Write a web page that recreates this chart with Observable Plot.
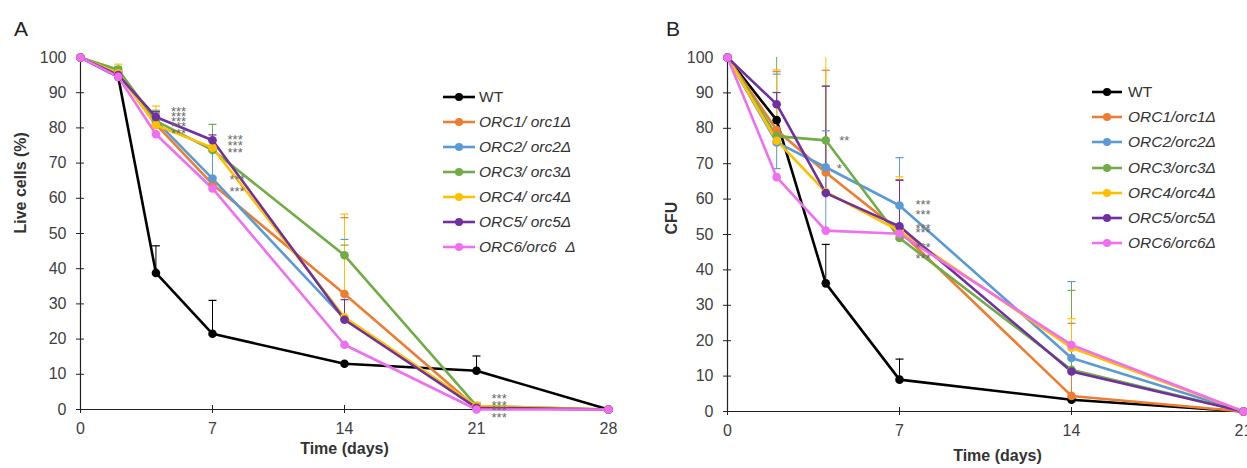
<!DOCTYPE html>
<html><head><meta charset="utf-8">
<script src="https://cdn.jsdelivr.net/npm/d3@7"></script>
<script src="https://cdn.jsdelivr.net/npm/@observablehq/plot@0.6"></script>
<style>
html,body{margin:0;padding:0;background:#fff;overflow:hidden}
#wrap{position:relative;width:1247px;height:468px;font-family:"Liberation Sans",Arial,sans-serif;color:#333}
.panel{position:absolute;top:0}
.letter{position:absolute;font-size:21px;color:#222;line-height:1}
.legend{position:absolute;font-size:15.5px;color:#333}
.legend .row{position:absolute;left:0;white-space:pre;display:flex;align-items:center;height:20px}
.legend svg{display:block;overflow:visible}
</style></head>
<body><div id="wrap"></div>
<script>
// ---------- data ----------
const strains = ["WT", "ORC1", "ORC2", "ORC3", "ORC4", "ORC5", "ORC6"];
const colors = ["#000000", "#ED7D31", "#5B9BD5", "#70AD47", "#FFC000", "#7030A0", "#F06EF0"];
const legendLabelsA = ["WT", "ORC1/ orc1Δ", "ORC2/ orc2Δ", "ORC3/ orc3Δ", "ORC4/ orc4Δ", "ORC5/ orc5Δ", "ORC6/orc6  Δ"];
const legendLabelsB = ["WT", "ORC1/orc1Δ", "ORC2/orc2Δ", "ORC3/orc3Δ", "ORC4/orc4Δ", "ORC5/orc5Δ", "ORC6/orc6Δ"];
const yTicks = [0, 10, 20, 30, 40, 50, 60, 70, 80, 90, 100];

// Panel A: live cells (%)
const daysA = [0, 2, 4, 7, 14, 21, 28];
const xTicksA = [0, 7, 14, 21, 28];
const liveWT   = [100, 94.5, 38.8, 21.5, 13.0, 11.0, 0];
const liveORC1 = [100, 95.5, 81.0, 64.0, 32.8, 0.5, 0];
const liveORC2 = [100, 95.5, 82.0, 65.6, 25.8, 0.5, 0];
const liveORC3 = [100, 96.5, 82.0, 73.7, 43.8, 1.0, 0];
const liveORC4 = [100, 95.5, 80.8, 74.4, 26.2, 1.0, 0];
const liveORC5 = [100, 95.0, 83.1, 76.5, 25.5, 0.5, 0];
const liveORC6 = [100, 94.5, 78.2, 62.8, 18.4, 0, 0];
const liveErrWT   = [0, 0, 7.7, 9.5, 0, 4.2, 0];
const liveErrORC1 = [0, 1.5, 3.0, 2.0, 21.7, 1.0, 0];
const liveErrORC2 = [0, 1.5, 2.5, 8.0, 22.5, 1.0, 0];
const liveErrORC3 = [0, 1.0, 3.0, 7.3, 2.9, 1.0, 0];
const liveErrORC4 = [0, 2.6, 5.4, 2.0, 29.3, 1.0, 0];
const liveErrORC5 = [0, 1.0, 1.5, 1.5, 5.7, 1.0, 0];
const liveErrORC6 = [0, 0, 0, 0, 0, 0, 0];
const starsLiveDay = [5.2, 5.2, 5.2, 5.2, 5.2, 8.2, 8.2, 8.2, 8.3, 8.3, 22.2, 22.2, 22.2, 22.2];
const starsLiveVal = [85.3, 83.9, 82.5, 81.1, 79.1, 77.6, 75.8, 73.9, 66.1, 62.8, 4.0, 2.0, 0.5, -1.5];
const starsLiveText = ["***", "***", "***", "***", "***", "***", "***", "***", "***", "***", "***", "***", "***", "***"];

// Panel B: CFU
const daysB = [0, 2, 4, 7, 14, 21];
const xTicksB = [0, 7, 14, 21];
const cfuWT   = [100, 82.3, 36.2, 9.0, 3.3, 0];
const cfuORC1 = [100, 79.5, 67.5, 51.0, 4.4, 0];
const cfuORC2 = [100, 76.0, 69.0, 58.2, 15.1, 0];
const cfuORC3 = [100, 77.8, 76.6, 49.0, 11.8, 0];
const cfuORC4 = [100, 76.5, 62.0, 51.0, 18.0, 0];
const cfuORC5 = [100, 86.8, 61.7, 52.3, 11.3, 0];
const cfuORC6 = [100, 66.2, 51.1, 50.2, 18.8, 0];
const cfuErrWT   = [0, 0, 11.0, 5.8, 0, 0];
const cfuErrORC1 = [0, 16.5, 28.9, 14.5, 20.5, 0];
const cfuErrORC2 = [0, 19.3, 10.3, 13.5, 21.6, 0];
const cfuErrORC3 = [0, 22.7, 15.3, 0, 22.4, 0];
const cfuErrORC4 = [0, 20.0, 38.0, 15.3, 8.2, 0];
const cfuErrORC5 = [0, 3.3, 30.2, 13.0, 0, 0];
const cfuErrORC6 = [0, 0, 0, 0, 0, 0];
const cfuLowORC2 = [0, 7.4, 17.9, 0, 0, 0];
const starsCfuDay = [4.75, 4.55, 7.96, 7.96, 7.96, 7.96, 7.96, 7.96];
const starsCfuVal = [77.4, 69.3, 59.2, 56.3, 52.5, 51.3, 47.2, 44.1];
const starsCfuText = ["**", "*", "***", "***", "***", "***", "***", "***"];

// ---------- helpers ----------
function buildRows(days, series, errs, lows) {
  const out = [];
  strains.forEach((s, i) => days.forEach((d, j) => out.push({
    strain: s, day: d, value: series[i][j], err: errs[i][j], low: lows && lows[i] ? lows[i][j] : 0
  })));
  return out;
}
const capSymbol = {draw(ctx, size) { const r = Math.sqrt(size / Math.PI); ctx.moveTo(-r, 0); ctx.lineTo(r, 0); }};

function panel({rows, xTicks, xMax, width, mL, mR, mT, mB, yLabel, yLabelDx, xLabelDx, xLabelDy, starsDay, starsVal, starsText}) {
  const up = rows.filter(d => d.err > 0).map(d => ({...d, top: Math.min(100, d.value + d.err)}));
  const down = rows.filter(d => d.low > 0).map(d => ({...d, top: d.value - d.low}));
  const caps = up.filter(d => d.value + d.err < 100).concat(down);
  const stars = starsDay.map((d, i) => ({day: d, value: starsVal[i], text: starsText[i]}));
  return Plot.plot({
    width, height: 468,
    marginLeft: mL, marginRight: mR, marginTop: mT, marginBottom: mB,
    style: {fontFamily: '"Liberation Sans", Arial, sans-serif', fontSize: "16px", color: "#404040", background: "transparent", overflow: "visible"},
    x: {domain: [0, xMax]},
    y: {domain: [0, 100]},
    color: {domain: strains, range: colors},
    marks: [
      Plot.ruleX(up.concat(down), {x: "day", y1: "value", y2: "top", stroke: "strain", strokeWidth: 1}),
      Plot.dot(caps, {x: "day", y: "top", symbol: capSymbol, r: 4, stroke: "strain", strokeWidth: 1.2, fill: "none"}),
      Plot.ruleX([0], {stroke: "#222", strokeWidth: 1.2}),
      Plot.ruleY([0], {stroke: "#222", strokeWidth: 1.2}),
      Plot.axisY({ticks: yTicks, tickSize: 8, dx: 4, tickPadding: 10, label: null, stroke: "#222", fill: "#404040"}),
      Plot.axisX({ticks: xTicks, tickSize: 8, dy: -4, tickPadding: 9, label: null, stroke: "#222", fill: "#404040"}),
      Plot.line(rows, {x: "day", y: "value", z: "strain", stroke: "strain", strokeWidth: 2.6, strokeLinejoin: "round"}),
      Plot.dot(rows, {x: "day", y: "value", fill: "strain", r: 4.3}),
      Plot.text(stars, {x: "day", y: "value", text: "text", fill: "#6a6a6a", fontSize: 13, dy: 3}),
      Plot.text([yLabel], {frameAnchor: "left", rotate: -90, dx: yLabelDx, fontWeight: "bold", fontSize: 16, fill: "#333"}),
      Plot.text(["Time (days)"], {frameAnchor: "bottom", dx: xLabelDx, dy: xLabelDy, fontWeight: "bold", fontSize: 16, fill: "#333"})
    ]
  });
}

function legend(labels, left, top, step, lineLen, gap) {
  const div = document.createElement("div");
  div.className = "legend";
  div.style.left = left + "px";
  div.style.top = top + "px";
  labels.forEach((lab, i) => {
    const row = document.createElement("div");
    row.className = "row";
    row.style.top = (i * step - 10) + "px";
    const sw = d3.create("svg").attr("width", lineLen).attr("height", 10);
    sw.append("line").attr("x1", 0).attr("x2", lineLen).attr("y1", 5).attr("y2", 5).attr("stroke", colors[i]).attr("stroke-width", 2.6);
    sw.append("circle").attr("cx", lineLen / 2).attr("cy", 5).attr("r", 4).attr("fill", colors[i]);
    row.appendChild(sw.node());
    const t = document.createElement("span");
    t.textContent = lab;
    t.style.marginLeft = gap + "px";
    if (i > 0) t.style.fontStyle = "italic";
    row.appendChild(t);
    div.appendChild(row);
  });
  return div;
}

// ---------- render ----------
const wrap = document.getElementById("wrap");
const rowsA = buildRows(daysA, [liveWT, liveORC1, liveORC2, liveORC3, liveORC4, liveORC5, liveORC6],
  [liveErrWT, liveErrORC1, liveErrORC2, liveErrORC3, liveErrORC4, liveErrORC5, liveErrORC6]);
const rowsB = buildRows(daysB, [cfuWT, cfuORC1, cfuORC2, cfuORC3, cfuORC4, cfuORC5, cfuORC6],
  [cfuErrWT, cfuErrORC1, cfuErrORC2, cfuErrORC3, cfuErrORC4, cfuErrORC5, cfuErrORC6],
  [null, null, cfuLowORC2, null, null, null, null]);

const pA = panel({rows: rowsA, xTicks: xTicksA, xMax: 28, width: 620, mL: 80, mR: 12, mT: 57, mB: 59,
  yLabel: "Live cells (%)", yLabelDx: -60, xLabelDx: 0, xLabelDy: 44,
  starsDay: starsLiveDay, starsVal: starsLiveVal, starsText: starsLiveText});
pA.classList.add("panel"); pA.style.left = "0px";
wrap.appendChild(pA);

const pB = panel({rows: rowsB, xTicks: xTicksB, xMax: 21, width: 627, mL: 107, mR: 4, mT: 57, mB: 57,
  yLabel: "CFU", yLabelDx: -56, xLabelDx: 12, xLabelDy: 49,
  starsDay: starsCfuDay, starsVal: starsCfuVal, starsText: starsCfuText});
pB.classList.add("panel"); pB.style.left = "620px";
wrap.appendChild(pB);

const la = document.createElement("div"); la.className = "letter"; la.textContent = "A"; la.style.left = "14px"; la.style.top = "18px";
const lb = document.createElement("div"); lb.className = "letter"; lb.textContent = "B"; lb.style.left = "666px"; lb.style.top = "18px";
wrap.appendChild(la); wrap.appendChild(lb);

wrap.appendChild(legend(legendLabelsA, 443, 97, 25, 32, 4));
wrap.appendChild(legend(legendLabelsB, 1092, 92, 25.2, 30, 6));
</script>
</body></html>
